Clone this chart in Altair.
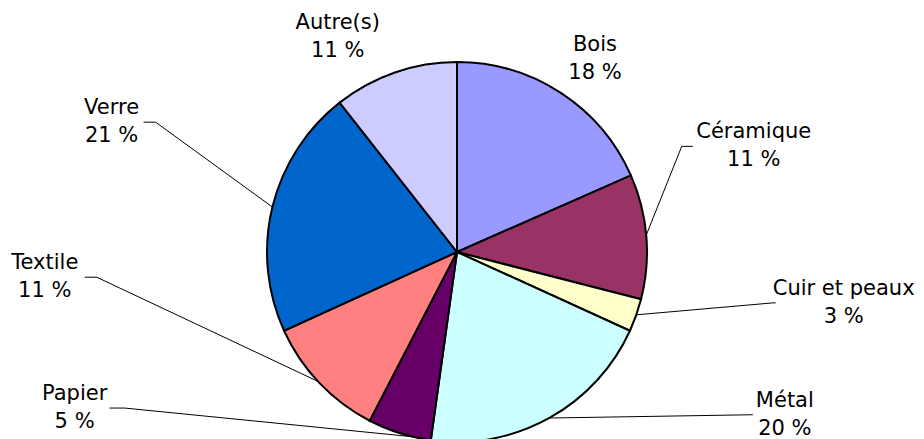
import math
import altair as alt
import pandas as pd

# ---- data ----
categories = ["Bois", "Céramique", "Cuir et peaux", "Métal", "Papier", "Textile", "Verre", "Autre(s)"]
shares = [18.4, 10.6, 2.8, 20.4, 5.4, 10.6, 21.2, 10.6]
colors = ["#9999FF", "#993366", "#FFFFCC", "#CCFFFF", "#660066", "#FF8080", "#0066CC", "#CCCCFF"]

# ---- layout (label placement, polar around pie centre) ----
W, H = 908, 431
CX, CY, R = 449, 244, 190
LINE_H = 28
label_angle = [35.6, 70.4, 97.5, 116.4, 247.8, 266.5, 290.6, 331.0]
label_radius = [237, 315, 390, 366, 413, 413, 369, 246]
edge_angle = [None, 84.9, 109.3, 150.9, 193.5, 227.1, 283.7, None]
elbow_dx = [None, -72, -71, -32, 50, 52, 44, None]
end_dx = [None, -61, -68, -32, 35, 40, 32, None]
FONT = "DejaVu Sans"


def polar(a, r):
    t = math.radians(a)
    return CX + r * math.sin(t), CY - r * math.cos(t)


pie_df = pd.DataFrame({
    "cat": categories,
    "share": shares,
    "order": list(range(len(categories))),
})

lab_rows = []
line_rows = []
for i, c in enumerate(categories):
    lx, ly = polar(label_angle[i], label_radius[i])
    lab_rows.append({"cat": c, "txt": f"{c}\n{round(shares[i])} %", "lx": lx, "ly": ly - LINE_H / 2})
    if edge_angle[i] is not None:
        ex, ey = polar(edge_angle[i], R)
        line_rows.append({"cat": c, "seq": 0, "px": ex, "py": ey})
        line_rows.append({"cat": c, "seq": 1, "px": lx + elbow_dx[i], "py": ly})
        line_rows.append({"cat": c, "seq": 2, "px": lx + end_dx[i], "py": ly})
lab_df = pd.DataFrame(lab_rows)
line_df = pd.DataFrame(line_rows)

pie = alt.Chart(pie_df).mark_arc(outerRadius=R, stroke="black", strokeWidth=2).encode(
    theta=alt.Theta("share:Q", stack=True),
    order=alt.Order("order:Q"),
    color=alt.Color("cat:N", scale=alt.Scale(domain=categories, range=colors), legend=None),
    x=alt.value(CX),
    y=alt.value(CY),
)

lines = alt.Chart(line_df).mark_line(color="black", strokeWidth=1).encode(
    x=alt.X("px:Q", scale=None, axis=None),
    y=alt.Y("py:Q", scale=None, axis=None),
    detail="cat:N",
    order="seq:Q",
)

labels = alt.Chart(lab_df).mark_text(
    font=FONT, fontSize=21, lineHeight=LINE_H, lineBreak="\n",
    align="center", baseline="middle", color="black",
).encode(
    x=alt.X("lx:Q", scale=None, axis=None),
    y=alt.Y("ly:Q", scale=None, axis=None),
    text="txt:N",
)

chart = alt.layer(lines, pie, labels).properties(
    width=W, height=H, autosize=alt.AutoSizeParams(type="none"), padding=0,
    background="white",
).configure_view(strokeWidth=0)

chart.save("out.html", embed_options={"renderer": "svg", "actions": False})
